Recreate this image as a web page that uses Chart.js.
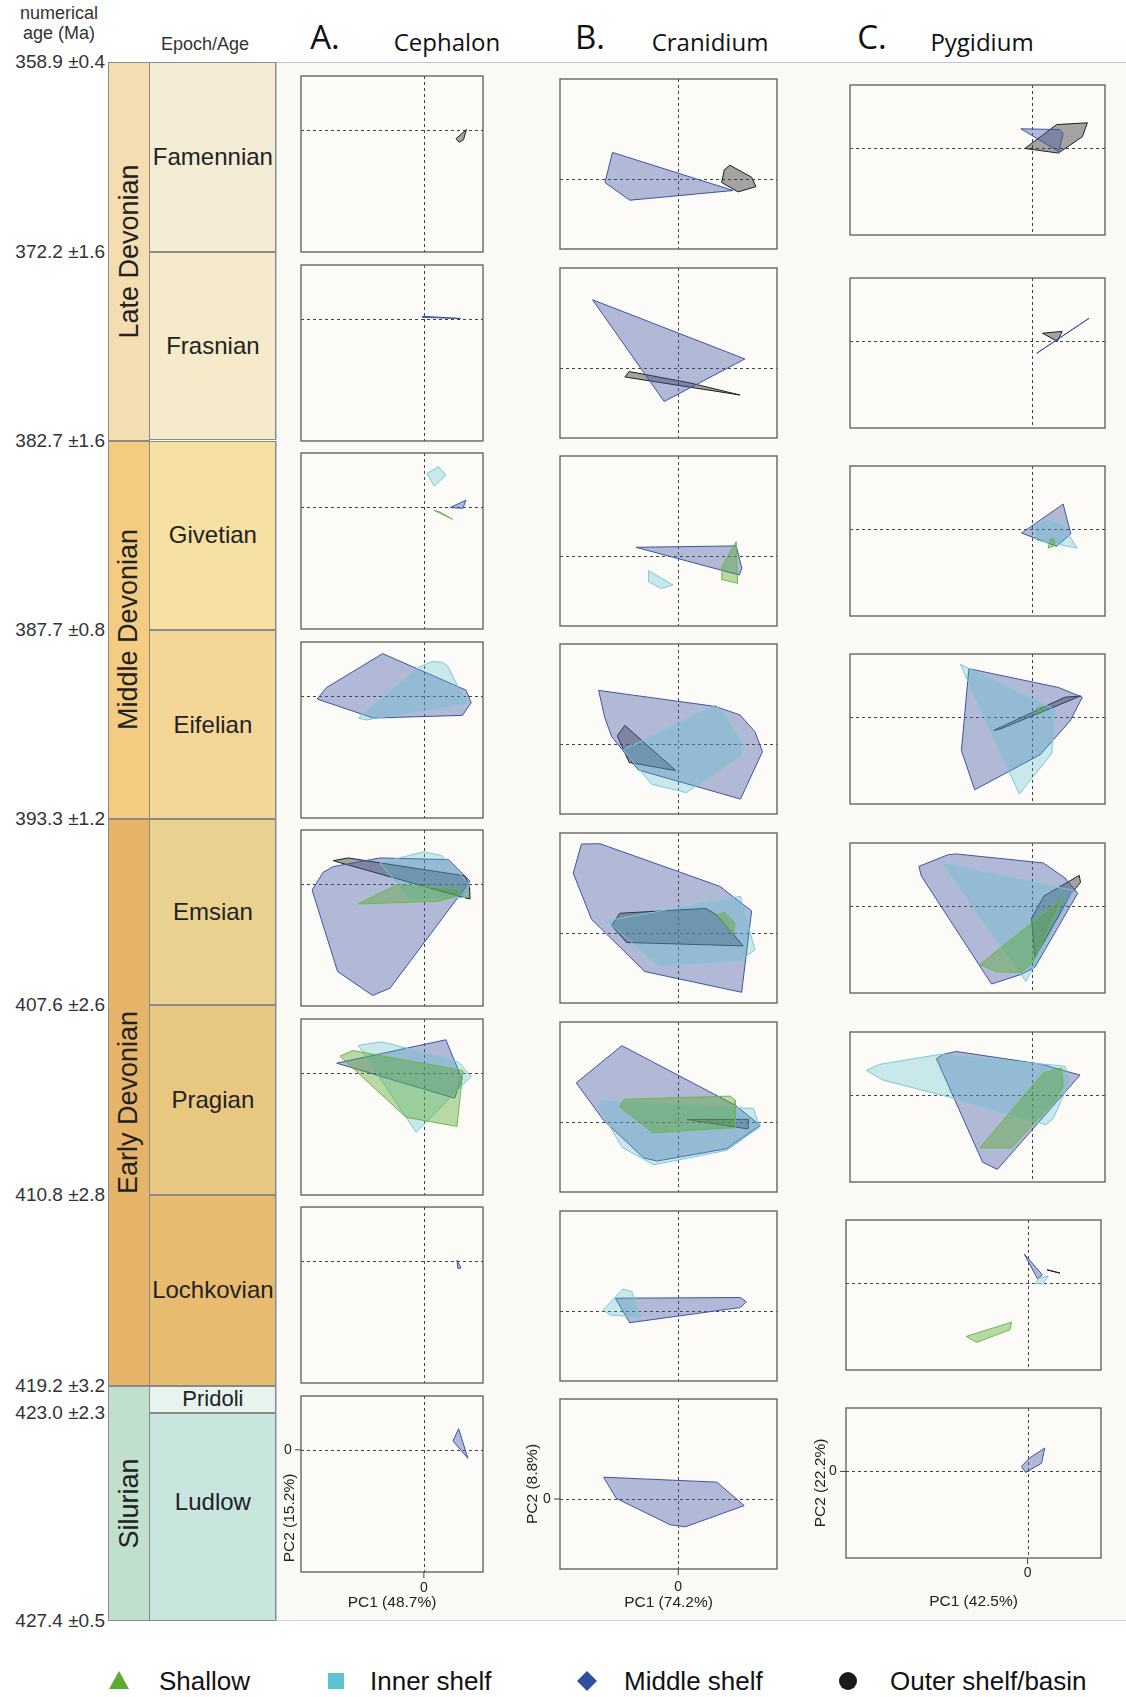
<!DOCTYPE html>
<html><head><meta charset="utf-8">
<script src="https://cdn.jsdelivr.net/npm/chart.js@4.4.1/dist/chart.umd.min.js"></script>
<style>
body{margin:0;background:#fff;}
#root{position:relative;width:1126px;height:1697px;overflow:hidden;font-family:"Liberation Sans",Arial,sans-serif;color:#222;}
.a{position:absolute;}
.cell{position:absolute;box-sizing:border-box;border:1px solid #8a8a8a;display:flex;align-items:center;justify-content:center;}
.rot{transform:rotate(-90deg);white-space:nowrap;}
canvas{position:absolute;}
</style></head><body><div id="root"></div>
<script>
// ---------------- DATA ----------------
const columnTitles = ['Cephalon', 'Cranidium', 'Pygidium'];
const columnLetters = ['A.', 'B.', 'C.'];
const groupNames = ['Shallow', 'Inner shelf', 'Middle shelf', 'Outer shelf/basin'];
const ageNames = ['Famennian','Frasnian','Givetian','Eifelian','Emsian','Pragian','Lochkovian','Pridoli','Ludlow'];
const eraNames = ['Late Devonian','Middle Devonian','Early Devonian','Silurian'];
const boundaryLabels = ['358.9 \u00b10.4','372.2 \u00b11.6','382.7 \u00b11.6','387.7 \u00b10.8','393.3 \u00b11.2','407.6 \u00b12.6','410.8 \u00b12.8','419.2 \u00b13.2','423.0 \u00b12.3','427.4 \u00b10.5'];
const pc1Labels = ['PC1 (48.7%)', 'PC1 (74.2%)', 'PC1 (42.5%)'];
const pc2Labels = ['PC2 (15.2%)', 'PC2 (8.8%)', 'PC2 (22.2%)'];
// axis ranges [min, max] per column
const cephalonX = [-6.75, 3.25], cephalonY = [-6.94, 3.06];
const cranidiumX = [-5.45, 4.55], cranidiumY = [-4.12, 5.88];
const pygidiumX = [-7.12, 2.88], pygidiumY = [-5.77, 4.23];

// hull vertices per panel, slots: [shallow, inner shelf, middle shelf, outer shelf/basin]
const cephalonFamennian = [null, null, null, [[2.34,0.02],[1.77,-0.50],[1.94,-0.71],[2.18,-0.56]]];
const cephalonFrasnian = [null, null, [[-0.08,0.15],[2.03,0.02],[-0.06,0.08]], null];
const cephalonGivetian = [[[0.57,-0.21],[0.84,-0.27],[1.58,-0.70]], [[0.17,1.90],[0.81,2.28],[1.21,1.79],[0.57,1.18]], [[1.45,-0.04],[2.31,0.38],[2.15,-0.08]], null];
const cephalonEifelian = [null, [[0.43,1.95],[1.04,1.91],[1.33,1.65],[1.90,0.47],[2.38,-0.40],[-3.15,-1.37],[-3.59,-1.26],[-0.30,1.61]], [[-2.26,2.40],[2.32,0.32],[2.60,-0.39],[2.12,-1.11],[-2.78,-1.26],[-5.86,-0.18],[-5.35,0.47]], null];
const cephalonEmsian = [[[-1.49,-0.06],[1.99,-0.29],[1.90,-0.67],[0.80,-0.99],[-3.60,-1.14]], [[-2.41,1.19],[-0.03,1.82],[0.98,1.61],[1.81,0.79],[2.45,-0.01],[2.27,-0.77],[-0.76,-0.86]], [[-4.98,0.98],[-2.41,1.47],[1.35,1.38],[2.54,0.15],[-1.86,-5.93],[-2.82,-6.34],[-4.74,-4.98],[-6.14,-0.35],[-5.53,0.66]], [[-4.98,1.32],[-4.15,1.47],[2.27,0.45],[2.51,-0.20],[2.54,-0.86],[2.18,-0.77],[-4.70,1.23]]];
const cephalonPragian = [[[-4.61,0.95],[-3.91,1.27],[2.15,0.13],[1.82,-3.04],[-0.97,-2.53]], [[-3.60,1.56],[-2.40,1.75],[-1.85,1.65],[1.91,0.61],[2.59,-0.21],[-0.42,-3.38]], [[-4.79,0.55],[1.21,1.88],[2.09,-0.34],[1.69,-1.44]], null];
const cephalonLochkovian = [null, null, [[1.82,0.04],[2.04,-0.40],[1.87,-0.44]], null];
const cephalonLudlow = [null, null, [[1.91,1.20],[2.42,-0.48],[1.60,0.50]], null];

const cranidiumFamennian = [null, null, [[-3.03,1.56],[2.53,-0.68],[-2.23,-1.25],[-3.38,-0.21]], [[2.38,0.81],[3.38,0.10],[3.58,-0.45],[2.76,-0.76],[2.00,-0.21],[2.12,0.54]]];
const cranidiumFrasnian = [null, null, [[-3.95,4.01],[3.07,0.53],[-0.65,-1.97]], [[-2.26,-0.21],[0.54,-0.88],[2.84,-1.59],[-2.46,-0.53]]];
const cranidiumGivetian = [[[2.67,0.84],[2.73,-1.61],[1.98,-1.38],[2.01,-0.63]], [[-1.37,-0.86],[-0.25,-1.71],[-0.80,-1.91],[-1.37,-1.51]], [[-1.95,0.51],[2.67,0.59],[2.93,-0.73],[2.81,-1.12]], null];
const cranidiumEifelian = [null, [[1.73,2.27],[2.15,1.71],[2.92,0.01],[2.92,-0.64],[0.38,-2.86],[-1.23,-2.37],[-1.84,-1.43],[-2.54,-0.35]], [[-3.67,3.15],[1.69,2.21],[2.84,1.71],[3.53,0.73],[3.88,-0.45],[2.87,-3.24],[-1.84,-1.53],[-3.07,0.44],[-3.38,1.52]], [[-2.46,1.09],[-0.11,-1.57],[-2.26,-1.09],[-2.81,0.48]]];
const cranidiumEmsian = [[[1.80,1.07],[2.12,1.20],[2.61,0.58],[2.53,-0.05]], [[-3.30,0.71],[2.87,2.15],[3.53,-1.00],[2.84,-1.62],[-0.92,-1.92]], [[-4.46,5.23],[-3.61,5.25],[1.92,2.74],[2.61,2.05],[3.38,1.30],[2.92,-3.49],[-1.54,-2.27],[-4.00,0.81],[-4.84,3.52]], [[-2.69,1.16],[1.27,1.44],[1.77,1.07],[2.99,-0.76],[-2.38,-0.56],[-3.07,0.44]]];
const cranidiumPragian = [[[-2.49,1.34],[2.40,1.52],[2.63,1.28],[2.63,-0.33],[-1.17,-0.63],[-2.70,0.89]], [[-3.59,1.24],[3.47,0.79],[3.75,-0.30],[2.24,-1.67],[-1.14,-2.52],[-2.60,-1.48],[-3.67,0.89]], [[-4.70,2.30],[-2.60,4.49],[2.63,0.98],[3.78,-0.20],[2.24,-1.57],[-0.98,-2.30],[-1.60,-2.11],[-3.44,0.10]], [[0.40,0.14],[3.24,0.16],[3.21,-0.41]]];
const cranidiumLochkovian = [null, [[-2.55,1.28],[-2.14,1.15],[-1.75,-0.36],[-3.13,-0.24],[-3.47,0.06]], [[-2.90,0.75],[2.86,0.79],[3.13,0.55],[2.86,0.20],[-2.24,-0.69]], null];
const cranidiumLudlow = [null, null, [[-3.44,1.28],[1.78,0.99],[3.04,-0.39],[0.32,-1.64],[-0.37,-1.52],[-2.86,0.04]], null];

const pygidiumFamennian = [null, null, [[-0.42,1.31],[1.09,1.26],[1.24,1.00],[1.07,-0.21]], [[-0.26,0.00],[0.98,1.59],[2.19,1.71],[1.99,0.78],[1.05,-0.31]]];
const pygidiumFrasnian = [null, null, [[0.20,-0.79],[2.26,1.55]], [[0.43,0.55],[1.20,0.67],[1.01,0.00]]];
const pygidiumGivetian = [[[0.65,-1.24],[0.75,-0.60],[0.88,-0.64],[0.92,-1.07]], [[0.13,0.26],[0.69,0.62],[1.22,0.26],[1.79,-1.24],[0.20,-0.72]], [[-0.39,-0.24],[1.24,1.69],[1.54,-0.29],[0.98,-1.12]], null];
const pygidiumEifelian = [[[0.20,0.59],[0.52,0.76],[0.39,0.40]], [[-2.79,3.54],[0.92,0.52],[0.79,-2.40],[-0.48,-5.11]], [[-2.46,3.25],[1.05,2.00],[1.99,1.35],[1.51,-0.24],[0.33,-2.49],[-2.23,-4.82],[-2.75,-2.21]], [[-1.48,-0.86],[1.31,1.35],[1.92,1.43],[-1.24,-0.78]]];
const pygidiumEmsian = [[[-2.03,-3.88],[1.24,0.60],[0.07,-3.69],[-0.39,-4.40],[-1.37,-4.36]], [[-3.49,2.86],[1.64,1.07],[-0.22,-5.00]], [[-4.42,2.67],[-3.27,3.45],[-2.95,3.50],[0.46,2.90],[1.31,1.90],[1.81,0.88],[0.13,-4.05],[-0.39,-4.52],[-1.57,-5.17],[-4.32,2.02]], [[0.00,-0.79],[0.48,0.69],[1.87,2.07],[1.92,1.60],[1.57,0.88],[0.13,-3.40]]];
const pygidiumPragian = [[[-2.03,-3.50],[0.46,1.50],[1.18,1.83],[1.24,0.60],[0.98,-0.24],[-0.79,-3.50]], [[-6.48,1.67],[-5.96,2.07],[-3.60,2.74],[1.31,1.95],[1.51,1.02],[0.85,-1.55],[0.56,-1.95],[-3.21,-0.12],[-5.82,1.02]], [[-3.73,2.45],[-3.47,2.74],[-2.95,2.93],[0.33,2.10],[1.90,1.36],[-1.34,-4.93],[-1.92,-4.45]], null];
const pygidiumLochkovian = [[[-2.40,-3.53],[-0.63,-2.58],[-0.69,-3.09],[-2.00,-3.93]], [[0.29,-0.02],[0.46,0.38],[0.81,0.49],[0.59,-0.02]], [[-0.13,1.96],[0.58,0.58],[0.39,0.31]], [[0.77,0.91],[1.27,0.69]]];
const pygidiumLudlow = [null, null, [[-0.24,0.33],[0.07,0.89],[0.67,1.55],[0.55,0.55],[-0.07,-0.07]], null];

// ---------------- TABLES BUILT FROM DATA ----------------
const panelRows = [
  [cephalonFamennian, cranidiumFamennian, pygidiumFamennian],
  [cephalonFrasnian, cranidiumFrasnian, pygidiumFrasnian],
  [cephalonGivetian, cranidiumGivetian, pygidiumGivetian],
  [cephalonEifelian, cranidiumEifelian, pygidiumEifelian],
  [cephalonEmsian, cranidiumEmsian, pygidiumEmsian],
  [cephalonPragian, cranidiumPragian, pygidiumPragian],
  [cephalonLochkovian, cranidiumLochkovian, pygidiumLochkovian],
  [cephalonLudlow, cranidiumLudlow, pygidiumLudlow]
];
const colRanges = [[cephalonX, cephalonY], [cranidiumX, cranidiumY], [pygidiumX, pygidiumY]];

// ---------------- STYLE / LAYOUT ----------------
const groupStyle = [
  {stroke:'#6cb84a', fill:'rgba(86,167,40,0.40)', order:2},
  {stroke:'#7ccad6', fill:'rgba(84,190,202,0.30)', order:3},
  {stroke:'#3b55a6', fill:'rgba(68,88,167,0.40)', order:4},
  {stroke:'#1e1e1e', fill:'rgba(55,55,55,0.45)', order:5}
];
const legendColors = ['#5aab2f', '#5bc4cf', '#2e4fa0', '#1a1a1a'];
const boxA = {x:301, w:181.5, h:176, tops:[76,265,453.3,641.7,830,1019,1207.3,1396]};
const boxB = {x:559.7, w:217, h:169.7, tops:[79.3,268.3,456,644.3,833.3,1022.3,1210.7,1399.3]};
const boxC = {h:150, tops:[84.6,277.9,466.4,654.3,842.9,1031.8,1220,1408.3]};
const bY = [62,252.3,440.5,630,819,1005,1195,1385.5,1413,1620.5];
const ageColors = ['#f5ecd6','#f5eac9','#f6e0a2','#f4d796','#e9d28f','#e8c780','#e7bb70','#e6f4ee','#c8e5de'];
const eraSpans = [[0,2,'#f4ddb0'],[2,4,'#f3cc82'],[4,7,'#e6b468'],[7,9,'#c0dfcd']];

const root = document.getElementById('root');
function el(tag, css, text) {
  const e = document.createElement(tag);
  e.style.cssText = css;
  if (text !== undefined) e.textContent = text;
  root.appendChild(e);
  return e;
}

// panel area background + blue frame
el('div', 'position:absolute;left:276px;top:62px;width:852px;height:1558.5px;background:#fbfaf5;border-top:1.5px solid #b9c5e0;border-bottom:1.5px solid #c6d0e6;border-left:1.5px solid #b9c5e0;box-sizing:border-box;');

// header
el('div', 'position:absolute;left:0;width:118px;top:4px;text-align:center;font-size:18px;line-height:19px;color:#333;', 'numerical');
el('div', 'position:absolute;left:0;width:118px;top:24px;text-align:center;font-size:18px;line-height:19px;color:#333;', 'age (Ma)');
el('div', 'position:absolute;left:149px;width:112px;top:35px;text-align:center;font-size:18px;line-height:19px;color:#333;', 'Epoch/Age');
const letterX = [325, 590, 872], titleX = [447, 710, 982];
columnLetters.forEach((t, i) => {
  el('div', `position:absolute;left:${letterX[i]-30}px;width:60px;top:17px;text-align:center;font-family:'Open Sans','Noto Sans',sans-serif;font-size:33px;line-height:40px;color:#111;`, t);
  el('div', `position:absolute;left:${titleX[i]-90}px;width:180px;top:27px;text-align:center;font-family:'Open Sans','Noto Sans',sans-serif;font-size:24px;line-height:30px;color:#111;`, columnTitles[i]);
});

// time scale
ageNames.forEach((n, i) => {
  const top = bY[i], h = bY[i+1]-bY[i];
  const c = el('div', `left:149.4px;top:${top}px;width:127px;height:${h}px;background:${ageColors[i]};font-size:${i===7?22:24}px;`);
  c.className = 'cell';
  const s = document.createElement('span');
  s.textContent = n;
  if (i === 8) s.style.cssText = 'position:relative;top:-15px;';
  c.appendChild(s);
});
eraSpans.forEach(([a, b, col], i) => {
  const c = el('div', `left:108px;top:${bY[a]}px;width:41.8px;height:${bY[b]-bY[a]}px;background:${col};font-size:27px;`);
  c.className = 'cell';
  const s = document.createElement('span');
  s.className = 'rot';
  s.style.display = 'inline-block';
  s.textContent = eraNames[i];
  c.appendChild(s);
});
boundaryLabels.forEach((t, i) => {
  el('div', `position:absolute;left:0;width:105px;top:${bY[i]-11}px;text-align:right;font-size:19px;line-height:22px;color:#333;`, t);
});

// legend
const legX = [119, 336, 587, 848], legTextX = [159, 370, 624, 890];
const legShapes = [
  c => `<polygon points="1,19 11,1 21,19" fill="${c}"/>`,
  c => `<rect x="3" y="3" width="16" height="16" fill="${c}"/>`,
  c => `<polygon points="11,1 21,11 11,21 1,11" fill="${c}"/>`,
  c => `<circle cx="11" cy="11" r="9" fill="${c}"/>`
];
groupNames.forEach((n, i) => {
  const d = el('div', `position:absolute;left:${legX[i]-11}px;top:1670px;width:22px;height:22px;`);
  d.innerHTML = `<svg width="22" height="22">${legShapes[i](legendColors[i])}</svg>`;
  el('div', `position:absolute;left:${legTextX[i]}px;top:1665px;font-size:26px;line-height:32px;color:#111;white-space:nowrap;`, n);
});

// ---------------- CHARTS ----------------
const deco = {
  id: 'deco',
  beforeDraw(chart) {
    const {ctx, chartArea: a, scales: {x, y}} = chart;
    ctx.save();
    ctx.fillStyle = '#fcfbf7';
    ctx.fillRect(a.left, a.top, a.width, a.height);
    ctx.strokeStyle = '#444';
    ctx.lineWidth = 1;
    ctx.setLineDash([3, 3]);
    const px = Math.round(x.getPixelForValue(0)) + 0.5;
    const py = Math.round(y.getPixelForValue(0)) + 0.5;
    ctx.beginPath();
    ctx.moveTo(px, a.top); ctx.lineTo(px, a.bottom);
    ctx.moveTo(a.left, py); ctx.lineTo(a.right, py);
    ctx.stroke();
    ctx.restore();
  },
  afterDraw(chart, args, o) {
    const {ctx, chartArea: a, scales: {x, y}} = chart;
    ctx.save();
    ctx.strokeStyle = '#5a5a5a';
    ctx.lineWidth = 1.3;
    ctx.strokeRect(a.left, a.top, a.width, a.height);
    if (o.bottom) {
      const px = x.getPixelForValue(0), py = y.getPixelForValue(0);
      ctx.strokeStyle = '#444'; ctx.lineWidth = 1;
      ctx.beginPath();
      ctx.moveTo(px, a.bottom); ctx.lineTo(px, a.bottom + 6);
      ctx.moveTo(a.left - 6, py); ctx.lineTo(a.left, py);
      ctx.stroke();
      ctx.fillStyle = '#222';
      ctx.font = '14px "Liberation Sans", Arial, sans-serif';
      ctx.textAlign = 'center'; ctx.textBaseline = 'middle';
      ctx.fillText('0', px, a.bottom + o.zeroDy);
      ctx.font = '15.5px "Liberation Sans", Arial, sans-serif';
      ctx.fillText(o.pc1, (a.left + a.right) / 2, a.bottom + o.pc1Dy);
      ctx.font = '14px "Liberation Sans", Arial, sans-serif';
      ctx.fillText('0', a.left - 13, py);
      ctx.font = '15.5px "Liberation Sans", Arial, sans-serif';
      ctx.save();
      ctx.translate(a.left + o.pc2dx, (a.top + a.bottom) / 2 + o.pc2dy);
      ctx.rotate(-Math.PI / 2);
      ctx.fillText(o.pc2, 0, 0);
      ctx.restore();
    }
    ctx.restore();
  }
};

function boxFor(col, row) {
  if (col === 0) return {x: boxA.x, y: boxA.tops[row], w: boxA.w, h: boxA.h};
  if (col === 1) return {x: boxB.x, y: boxB.tops[row], w: boxB.w, h: boxB.h};
  return row >= 6 ? {x: 846, y: boxC.tops[row], w: 254.7, h: boxC.h}
                  : {x: 850.3, y: boxC.tops[row], w: 254.7, h: boxC.h};
}
const pc2Offsets = [[-11, 34], [-27, 0], [-25, 0]];
const bottomOffsets = [[16, 31], [18, 34], [15, 44]];

panelRows.forEach((row, r) => {
  row.forEach((hulls, c) => {
    const b = boxFor(c, r);
    const bottom = r === 7;
    const pad = {left: bottom ? 40 : 3, right: 3, top: 3, bottom: bottom ? 54 : 3};
    const cv = document.createElement('canvas');
    const L = Math.round(b.x) - pad.left, T = Math.round(b.y) - pad.top;
    const W = Math.round(b.w) + pad.left + pad.right, H = Math.round(b.h) + pad.top + pad.bottom;
    cv.width = W; cv.height = H;
    cv.style.cssText = `left:${L}px;top:${T}px;width:${W}px;height:${H}px;`;
    root.appendChild(cv);
    const datasets = [];
    hulls.forEach((pts, g) => {
      if (!pts) return;
      const data = pts.map(([x, y]) => ({x, y}));
      data.push({x: pts[0][0], y: pts[0][1]});
      datasets.push({
        label: groupNames[g], data,
        borderColor: groupStyle[g].stroke,
        backgroundColor: groupStyle[g].fill,
        borderWidth: 1, fill: 'shape', order: groupStyle[g].order,
        pointRadius: 0, tension: 0
      });
    });
    new Chart(cv, {
      type: 'line',
      data: {datasets},
      options: {
        responsive: false, animation: false, devicePixelRatio: 1,
        layout: {padding: pad},
        scales: {
          x: {type: 'linear', min: colRanges[c][0][0], max: colRanges[c][0][1], display: false},
          y: {type: 'linear', min: colRanges[c][1][0], max: colRanges[c][1][1], display: false}
        },
        plugins: {
          legend: {display: false}, tooltip: {enabled: false},
          deco: {bottom, pc1: pc1Labels[c], pc2: pc2Labels[c], pc2dx: pc2Offsets[c][0], pc2dy: pc2Offsets[c][1],
                 zeroDy: bottomOffsets[c][0], pc1Dy: bottomOffsets[c][1]}
        }
      },
      plugins: [deco]
    });
  });
});
</script>
</body></html>
